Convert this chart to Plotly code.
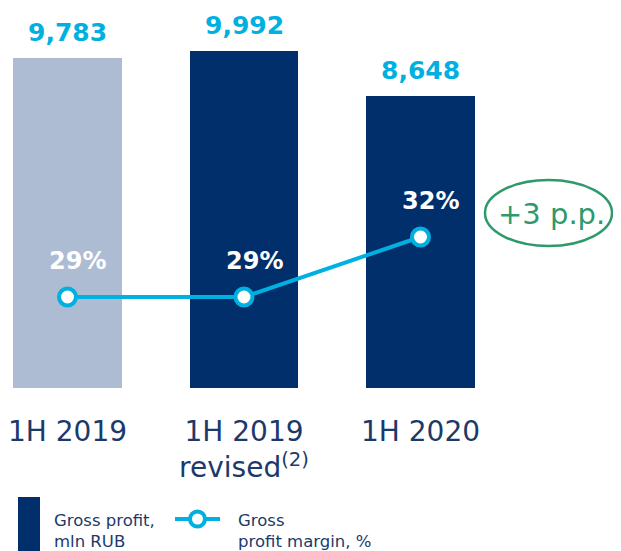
import plotly.graph_objects as go

categories = ["1H 2019", "1H 2019<br>revised<sup>(2)</sup>", "1H 2020"]
gross_profit = [9783, 9992, 8648]
gross_profit_labels = ["9,783", "9,992", "8,648"]
margin_pct = [29, 29, 32]
margin_labels = ["29%", "29%", "32%"]
bar_colors = ["#adbbd3", "#002f6c", "#002f6c"]

NAVY = "#1b3a6b"
CYAN = "#00b0e0"
GREEN = "#2e9a6b"
FONT = "DejaVu Sans"

xs = list(range(len(categories)))
W, H = 621, 551
OFF = 8  # page body margin
T, B = 20 - OFF, 388 - OFF

def py(p):
    return (B - (p - OFF)) / (B - T)

def px(p):
    return (p - OFF) / W

fig = go.Figure()
fig.add_trace(go.Bar(
    x=xs, y=gross_profit, marker=dict(color=bar_colors, line=dict(width=0)),
    width=0.617, showlegend=False, hoverinfo="skip",
))
for x, v, t in zip(xs, gross_profit, gross_profit_labels):
    fig.add_annotation(x=x, y=v, text=f"<b>{t}</b>", showarrow=False,
                       yanchor="bottom", yshift=9,
                       font=dict(color=CYAN, size=25, family=FONT))
fig.add_trace(go.Scatter(
    x=xs, y=margin_pct, yaxis="y2", mode="lines+markers",
    line=dict(color=CYAN, width=4),
    marker=dict(size=17, color="white", line=dict(color=CYAN, width=4)),
    showlegend=False, cliponaxis=False, hoverinfo="skip",
))
for x, v, t in zip(xs, margin_pct, margin_labels):
    fig.add_annotation(x=x, y=v, yref="y2", text=f"<b>{t}</b>", showarrow=False,
                       yshift=36, xshift=10,
                       font=dict(color="white", size=24, family=FONT))

c0 = 67.5 - OFF
fig.update_layout(
    width=W, height=H, margin=dict(l=0, r=0, t=T, b=H - B),
    paper_bgcolor="white", plot_bgcolor="white",
    bargap=0,
    xaxis=dict(range=[-c0 / 176.5, (W - c0) / 176.5], tickvals=xs, ticktext=categories,
               showgrid=False, zeroline=False, showline=False, ticks="",
               ticklabeloverflow="allow",
               tickfont=dict(color=NAVY, size=28, family=FONT), ticklabelstandoff=24),
    yaxis=dict(range=[0, (B - T) / 0.03373], visible=False),
    yaxis2=dict(range=[24.45, 42.85], overlaying="y", visible=False),
)

# "+3 p.p." callout
fig.add_shape(type="circle", xref="paper", yref="paper",
              x0=px(485), x1=px(612), y0=py(246), y1=py(180),
              line=dict(color=GREEN, width=2.5))
fig.add_annotation(xref="paper", yref="paper", x=px(551), y=py(214), text="+3 p.p.",
                   xanchor="center", yanchor="middle",
                   showarrow=False, font=dict(color=GREEN, size=29, family=FONT))

# custom legend
fig.add_shape(type="rect", xref="paper", yref="paper",
              x0=px(18), x1=px(40), y0=py(570), y1=py(497),
              fillcolor="#002f6c", line=dict(width=0))
fig.add_annotation(xref="paper", yref="paper", x=px(52), y=py(531), xanchor="left",
                   yanchor="middle",
                   text="Gross profit,<br>mln RUB", showarrow=False, align="left",
                   font=dict(color=NAVY, size=16.5, family=FONT))
fig.add_shape(type="line", xref="paper", yref="paper",
              x0=px(175), x1=px(220), y0=py(519), y1=py(519),
              line=dict(color=CYAN, width=4))
fig.add_shape(type="circle", xref="paper", yref="paper",
              x0=px(190), x1=px(205), y0=py(526.5), y1=py(511.5),
              fillcolor="white", line=dict(color=CYAN, width=4))
fig.add_annotation(xref="paper", yref="paper", x=px(236), y=py(531), xanchor="left",
                   yanchor="middle",
                   text="Gross<br>profit margin, %", showarrow=False, align="left",
                   font=dict(color=NAVY, size=16.5, family=FONT))

fig.write_html("out.html")
